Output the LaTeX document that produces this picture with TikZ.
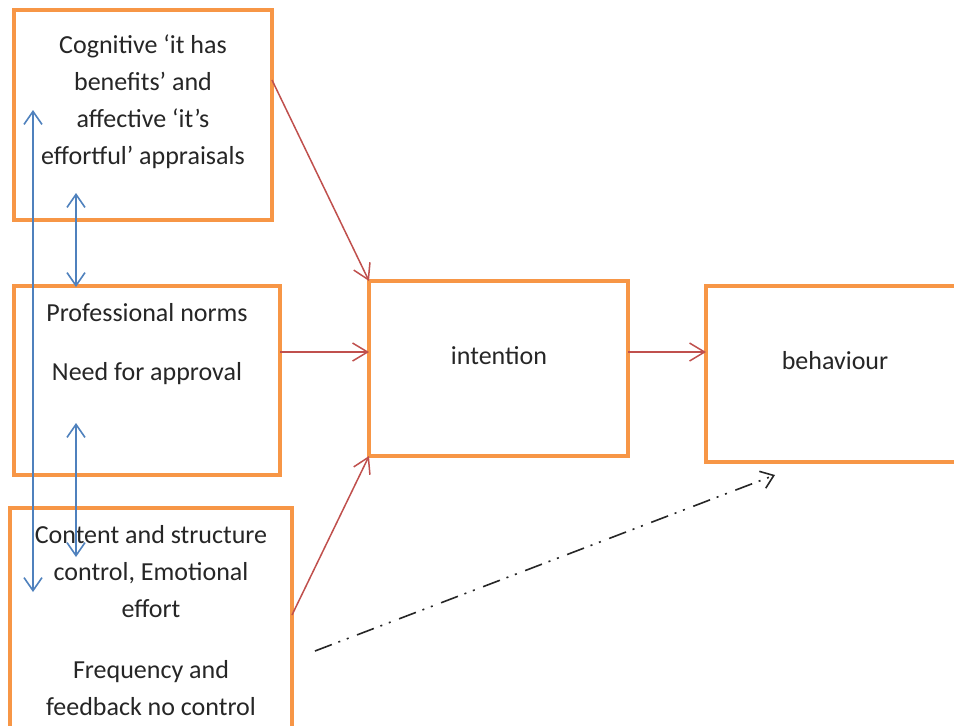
\documentclass[tikz,border=0pt]{standalone}
\usepackage{fontspec}
\setmainfont{Carlito}
\usepackage{tikz}
\usetikzlibrary{arrows.meta}
\usepackage{xcolor}
\definecolor{boxorange}{HTML}{F79646}
\definecolor{linkred}{HTML}{C0504D}
\definecolor{linkblue}{HTML}{4F81BD}

\begin{document}
\begin{tikzpicture}
		[   x=1pt,y=-1pt,
			bnode/.style={draw=boxorange,line width=4pt,fill=white,rectangle,outer sep=0pt,minimum width=#1},
			tnode/.style={align=center,inner sep=0pt,font=\fontsize{26}{37}\selectfont,text=black!85},
		]
		\tikzset{red arrow/.style={draw=linkred,line width=1.5pt,-{Straight Barb[length=15pt,width=18pt]}}}
		\tikzset{blue arrow/.style={draw=linkblue,line width=1.6pt,{Straight Barb[length=13pt,width=18pt]}-{Straight Barb[length=13pt,width=18pt]}}}
		\tikzset{dashdot arrow/.style={draw=black!85,line width=1.6pt,dash pattern=on 18pt off 7pt on 2pt off 7pt on 2pt off 9pt,-{Straight Barb[length=12pt,width=18pt]}}}
		
		\clip (0,0) rectangle (954,726);
		\fill[white] (0,0) rectangle (954,726);
		
		\node[bnode=258pt,minimum height=210pt] (cog) at (143,115) {};
		\node[bnode=266pt,minimum height=189pt] (norms) at (147,380.5) {};
		\node[bnode=282pt,minimum height=252pt] (ctrl) at (151,634) {};
		
		\node[bnode=259pt,minimum height=175pt] (intent) at (498.5,368.5) {};
		\node[bnode=284pt,minimum height=176pt] (behav) at (848,374) {};
		
		
		\node[tnode] (cog-t) at (143,102) {Cognitive ‘it has\\benefits’ and\\affective ‘it’s\\effortful’ appraisals};
		\node[tnode] (norms-t) at (147,344) {Professional norms\\[22pt]Need for approval};
		\node[tnode] (ctrl-t) at (151,621) {Content and structure\\control, Emotional\\effort\\[24pt]Frequency and\\feedback no control};
		\node[tnode] (intent-t) at (499,356) {intention};
		\node[tnode] (behav-t) at (835,361) {behaviour};
		
		
		\path[red arrow] ([yshift=35pt]cog.east) -- (intent.north west);
		\path[red arrow] ([yshift=28.5pt]norms.east) -- ([yshift=16.5pt]intent.west);
		\path[red arrow] ([yshift=19pt]ctrl.east) -- (intent.south west);
		\path[red arrow] ([yshift=16.5pt]intent.east) -- ([yshift=22pt]behav.west);
		
		\path[dashdot arrow] ([xshift=23pt,yshift=-17pt]ctrl.east) -- ([xshift=69pt,yshift=-13pt]behav.south west);
		
		
		\path[blue arrow] ([xshift=19pt,yshift=-100pt]cog.north west) -- ([xshift=23pt,yshift=-84pt]ctrl.north west);
		\path[blue arrow] ([xshift=62pt,yshift=27pt]cog.south west) -- ([xshift=62pt,yshift=-1pt]norms.north west);
		\path[blue arrow] ([xshift=62pt,yshift=52pt]norms.south west) -- ([xshift=66pt,yshift=-49pt]ctrl.north west);
		
\end{tikzpicture}
\end{document}
